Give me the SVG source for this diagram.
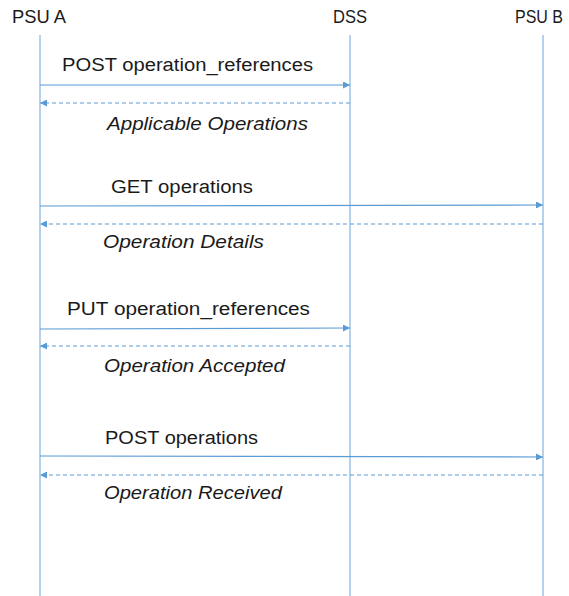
<svg xmlns="http://www.w3.org/2000/svg" width="569" height="596" viewBox="0 0 569 596">
<style>
.t{font-family:"Liberation Sans",Arial,sans-serif;font-size:18px;fill:#1a1a1a}
.i{font-style:italic}
.life{stroke:#9dc3e6;stroke-width:1.5;fill:none}
.msg{stroke:#5b9bd5;stroke-width:1.2;fill:none}
.ret{stroke:#5b9bd5;stroke-width:1.2;fill:none;stroke-dasharray:4 3}
</style>
<defs>
<marker id="ah" viewBox="0 0 10 10" refX="10" refY="5" markerWidth="7" markerHeight="7" orient="auto-start-reverse" markerUnits="userSpaceOnUse">
<path d="M0,0 L10,5 L0,10 z" fill="#5b9bd5"/>
</marker>
</defs>
<rect width="569" height="596" fill="#fff"/>
<g id="psuA">
<text class="t" x="12" y="23" textLength="54" lengthAdjust="spacingAndGlyphs">PSU A</text>
<line class="life" x1="40" y1="35" x2="40" y2="596"/>
</g>
<g id="dss">
<text class="t" x="333" y="23" textLength="34" lengthAdjust="spacingAndGlyphs">DSS</text>
<line class="life" x1="350" y1="35" x2="350" y2="596"/>
</g>
<g id="psuB">
<text class="t" x="515" y="23" textLength="48" lengthAdjust="spacingAndGlyphs">PSU B</text>
<line class="life" x1="543" y1="35" x2="543" y2="596"/>
</g>
<g id="connectors">
<line class="msg" x1="40" y1="85" x2="350" y2="85" marker-end="url(#ah)"/>
<line class="ret" x1="350" y1="103" x2="40" y2="103" marker-end="url(#ah)"/>
<line class="msg" x1="40" y1="206" x2="543" y2="205" marker-end="url(#ah)"/>
<line class="ret" x1="543" y1="224" x2="40" y2="224" marker-end="url(#ah)"/>
<line class="msg" x1="40" y1="329" x2="350" y2="328" marker-end="url(#ah)"/>
<line class="ret" x1="350" y1="346" x2="40" y2="346" marker-end="url(#ah)"/>
<line class="msg" x1="40" y1="456" x2="543" y2="457" marker-end="url(#ah)"/>
<line class="ret" x1="543" y1="475" x2="40" y2="475" marker-end="url(#ah)"/>
</g>
<g id="labels">
<text class="t" x="62" y="71" textLength="251" lengthAdjust="spacingAndGlyphs">POST operation_references</text>
<text class="t i" x="107" y="130" textLength="201" lengthAdjust="spacingAndGlyphs">Applicable Operations</text>
<text class="t" x="111" y="193" textLength="142" lengthAdjust="spacingAndGlyphs">GET operations</text>
<text class="t i" x="103" y="248" textLength="161" lengthAdjust="spacingAndGlyphs">Operation Details</text>
<text class="t" x="67" y="315" textLength="243" lengthAdjust="spacingAndGlyphs">PUT operation_references</text>
<text class="t i" x="104" y="372" textLength="181" lengthAdjust="spacingAndGlyphs">Operation Accepted</text>
<text class="t" x="105" y="444" textLength="153" lengthAdjust="spacingAndGlyphs">POST operations</text>
<text class="t i" x="104" y="499" textLength="178" lengthAdjust="spacingAndGlyphs">Operation Received</text>
</g>
</svg>
